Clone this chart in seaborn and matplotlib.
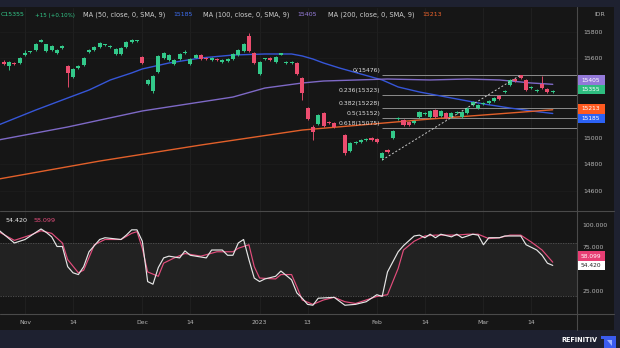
import numpy as np
import pandas as pd
import matplotlib
matplotlib.use("Agg")
import matplotlib.pyplot as plt
import seaborn as sns
from matplotlib.patches import Rectangle, Polygon
from matplotlib.lines import Line2D

sns.set_theme(style="dark")
plt.rcParams['font.family'] = ['DejaVu Sans']

# ---------------- data ----------------
bar_idx = list(range(0, 63)) + list(range(64, 104))
opens = [15574, 15543, 15566, 15566, 15626, 15648, 15664, 15728, 15657, 15664,
         15642, 15679, 15543, 15460, 15528, 15551, 15649, 15664, 15687, 15700,
         15687, 15634, 15634, 15687, 15725, 15732, 15611, 15408, 15355, 15498,
         15604, 15589, 15558, 15596, 15642, 15558, 15607, 15626, 15604, 15589,
         15596, 15574, 15581, 15596, 15626, 15657, 15770, 15642, 15483, 15594,
         15604, 15574, 15630, 15568, 15566, 15566, 15453, 15226, 15083, 15106,
         15189, 15121, 15113,
         15023, 14902, 14962, 14970, 14985, 15000, 14992, 14849, 14909, 15000,
         15140, 15136, 15121, 15113, 15158, 15181, 15158, 15211, 15166, 15189,
         15158, 15189, 15158, 15189, 15249, 15226, 15257, 15264, 15279, 15317,
         15344, 15400, 15445, 15472, 15438, 15377, 15355, 15408, 15370, 15347]
closes = [15560, 15574, 15558, 15604, 15642, 15650, 15709, 15740, 15709, 15694,
          15664, 15694, 15491, 15521, 15543, 15604, 15664, 15687, 15717, 15703,
          15694, 15672, 15679, 15725, 15740, 15734, 15566, 15438, 15468, 15619,
          15642, 15626, 15589, 15634, 15645, 15596, 15626, 15596, 15596, 15604,
          15589, 15589, 15596, 15634, 15664, 15709, 15657, 15566, 15574, 15597,
          15589, 15611, 15638, 15571, 15574, 15483, 15340, 15143, 15045, 15174,
          15091, 15110, 15083,
          14887, 14962, 14970, 14985, 14992, 14985, 14970, 14887, 14898, 15053,
          15151, 15098, 15098, 15128, 15196, 15189, 15204, 15158, 15204, 15151,
          15189, 15196, 15196, 15226, 15272, 15249, 15264, 15279, 15302, 15294,
          15355, 15438, 15430, 15453, 15362, 15385, 15362, 15377, 15347, 15355]
highs = [15585, 15580, 15572, 15612, 15665, 15660, 15715, 15750, 15712, 15700,
         15670, 15700, 15550, 15528, 15550, 15610, 15672, 15692, 15722, 15712,
         15700, 15678, 15685, 15730, 15748, 15740, 15618, 15445, 15475, 15626,
         15650, 15632, 15596, 15640, 15665, 15602, 15632, 15632, 15610, 15610,
         15602, 15594, 15602, 15640, 15670, 15715, 15792, 15648, 15580, 15605,
         15610, 15618, 15645, 15580, 15580, 15572, 15460, 15232, 15098, 15180,
         15196, 15128, 15120,
         15030, 14968, 14978, 14992, 15000, 15006, 14998, 14893, 14915, 15060,
         15158, 15142, 15128, 15134, 15202, 15195, 15210, 15218, 15210, 15195,
         15195, 15202, 15202, 15232, 15278, 15256, 15270, 15286, 15308, 15323,
         15362, 15445, 15452, 15476, 15444, 15392, 15368, 15468, 15376, 15362]
lows = [15550, 15515, 15550, 15560, 15620, 15640, 15660, 15724, 15650, 15658,
        15636, 15675, 15385, 15450, 15522, 15545, 15640, 15658, 15682, 15695,
        15680, 15628, 15628, 15680, 15720, 15726, 15560, 15400, 15340, 15490,
        15598, 15582, 15552, 15590, 15636, 15552, 15600, 15590, 15590, 15584,
        15584, 15568, 15576, 15590, 15620, 15652, 15650, 15560, 15475, 15588,
        15584, 15568, 15625, 15562, 15560, 15476, 15287, 15136, 14985, 15098,
        15085, 15104, 15076,
        14872, 14895, 14955, 14965, 14980, 14978, 14964, 14834, 14890, 14994,
        15134, 15092, 15092, 15107, 15152, 15176, 15152, 15152, 15160, 15145,
        15152, 15183, 15152, 15183, 15243, 15220, 15251, 15258, 15273, 15288,
        15338, 15394, 15424, 15447, 15356, 15370, 15350, 15370, 15340, 15340]

ma50_idx = [-1, 6, 12, 16, 20, 24, 26, 31, 37, 43, 49, 54, 56, 58, 60, 63, 67, 71, 74, 78, 84, 90, 95, 99, 103]
ma50_val = [15098, 15211, 15302, 15362, 15438, 15491, 15521, 15566, 15604, 15626, 15634, 15634, 15619,
            15596, 15566, 15528, 15483, 15438, 15385, 15347, 15302, 15257, 15226, 15204, 15185]
ma100_idx = [-1, 12, 26, 37, 43, 49, 56, 60, 72, 80, 87, 93, 99, 103]
ma100_val = [14985, 15083, 15204, 15272, 15309, 15377, 15415, 15430, 15445, 15438, 15445, 15438, 15415, 15405]
ma200_idx = [-1, 18, 37, 56, 80, 103]
ma200_val = [14690, 14826, 14947, 15060, 15143, 15213]

fib_levels = ["0", "0.236", "0.382", "0.5", "0.618"]
fib_prices = [15476, 15323, 15228, 15152, 15075]
fib_start = 71
trend_x = [71, 97]
trend_y = [14834, 15476]

k_idx = [-1, 2, 4, 7, 8, 9, 10, 11, 12, 13, 14, 15, 16, 18, 19, 22, 23, 24, 25, 26,
         27, 28, 29, 30, 31, 33, 34, 35, 38, 39, 41, 42, 43, 44, 45, 46, 47, 48, 49, 51,
         52, 54, 55, 56, 57, 58, 59, 62, 64, 66, 68, 70, 71, 72, 74, 75, 77, 78, 79, 80,
         81, 82, 84, 85, 86, 88, 89, 90, 91, 93, 94, 97, 98, 100, 101, 102, 103]
k_val = [95, 80, 84, 96, 92, 87, 76, 76, 53, 46, 44, 53, 70, 84, 86, 84, 89, 95, 95, 82,
         36, 33, 52, 63, 65, 63, 71, 66, 63, 72, 72, 66, 66, 80, 84, 61, 40, 36, 39, 42,
         48, 38, 23, 17, 10, 9, 17, 18, 9, 10, 13, 21, 19, 47, 70, 77, 88, 89, 86, 90,
         86, 90, 87, 90, 86, 90, 89, 78, 86, 86, 88, 88, 78, 72, 66, 57, 54.42]
d_idx = [-1, 2, 5, 7, 9, 11, 12, 14, 15, 17, 19, 22, 24, 25, 26, 27, 29, 30, 32, 34,
         37, 40, 43, 44, 46, 47, 48, 51, 52, 54, 55, 56, 58, 60, 62, 64, 66, 68, 70, 72,
         74, 75, 77, 79, 81, 85, 87, 89, 91, 93, 95, 97, 99, 101, 103]
d_val = [93, 83, 89, 94, 91, 80, 61, 46, 49, 78, 84, 84, 91, 93, 74, 47, 42, 57, 63, 68,
         65, 70, 70, 74, 78, 53, 40, 39, 44, 44, 30, 15, 10, 15, 18, 13, 11, 15, 19, 21,
         51, 72, 82, 88, 89, 89, 90, 90, 85, 86, 89, 89, 81, 72, 58.099]

date_ticks = [4, 13, 26, 35, 48, 57, 70, 79, 90, 99]
date_labels = ["Nov", "14", "Dec", "14", "2023", "13", "Feb", "14", "Mar", "14"]
price_ticks = [14600, 14800, 15000, 15600, 15800]
stoch_ticks = [25, 75, 100]

# ---------------- style ----------------
BG = '#161616'
NAVY = '#1e2130'
GREEN = '#33c98a'
RED = '#ec4d6f'
BLUE = '#3656d8'
PURPLE = '#7e69c6'
ORANGE = '#e2602a'
KCOL = '#e6e6e6'
DCOL = '#e34d7c'
TXT = '#b5b5b5'
FS = 4.4

W, H = 620, 348
def fx(px): return px / W
def fy(py): return 1 - py / H

fig = plt.figure(figsize=(6.2, 3.48), dpi=100)
fig.patch.set_facecolor(BG)

ax = fig.add_axes([0, fy(211), fx(577), (211 - 8) / H])
ax2 = fig.add_axes([0, fy(314), fx(577), (314 - 211) / H])
XL = (-0.7, 107.55)
for a in (ax, ax2):
    a.set_facecolor(BG)
    for s in a.spines.values():
        s.set_visible(False)
    a.set_xlim(*XL)
    a.set_xticks(date_ticks)
    a.grid(True, axis='x', color='#242424', lw=0.5, zorder=0)

# ----- main panel -----
ax.set_ylim(14449, 15981)
ax.grid(True, axis='y', color='#1e1e1e', lw=0.5, zorder=0)
ma_specs = [(ma50_idx, ma50_val, BLUE), (ma100_idx, ma100_val, PURPLE), (ma200_idx, ma200_val, ORANGE)]
for xi, yv, col in ma_specs:
    dfm = pd.DataFrame({'idx': xi, 'price': yv})
    sns.lineplot(data=dfm, x='idx', y='price', ax=ax, color=col, lw=1.0, legend=False, zorder=2)

xb = np.array(bar_idx, dtype=float)
o = np.array(opens, dtype=float)
c = np.array(closes, dtype=float)
hi = np.array(highs, dtype=float)
lo = np.array(lows, dtype=float)
cols = np.where(c >= o, GREEN, RED)
body_b = np.minimum(o, c)
body_h = np.maximum(np.abs(c - o), 7.0)
ax.vlines(xb, lo, hi, colors=cols, lw=0.65, zorder=3)
ax.bar(xb, body_h, bottom=body_b, width=0.76, color=cols, linewidth=0, zorder=4)

for lvl, p in zip(fib_levels, fib_prices):
    ax.hlines(p, fib_start, XL[1], colors='#8c8c8c', lw=0.7, zorder=1.5)
    ax.text(fib_start - 0.4, p + 32, f"{lvl}({p})", ha='right', va='center',
            color='#dcdcdc', fontsize=FS, zorder=5)
ax.plot(trend_x, trend_y, color='#c8c8c8', lw=0.7, dashes=(2, 2), zorder=5)

ax.yaxis.tick_right()
ax.set_yticks(price_ticks)
ax.set_yticklabels([str(v) for v in price_ticks])
ax.tick_params(axis='y', length=0, pad=4.5, labelsize=FS, labelcolor=TXT)
ax.tick_params(axis='x', length=0, labelbottom=False)
ax.set_xlabel('')
ax.set_ylabel('')

# ----- stochastic panel -----
ax2.set_ylim(-1, 116.5)
ax2.axhspan(20, 80, color='#222222', zorder=0.5, lw=0)
for lv in (20, 80):
    ax2.axhline(lv, color='#555555', lw=0.6, ls=(0, (1.5, 1.5)), zorder=1)
sns.lineplot(data=pd.DataFrame({'idx': d_idx, 'v': d_val}), x='idx', y='v', ax=ax2,
             color=DCOL, lw=0.85, legend=False, zorder=3)
sns.lineplot(data=pd.DataFrame({'idx': k_idx, 'v': k_val}), x='idx', y='v', ax=ax2,
             color=KCOL, lw=0.85, legend=False, zorder=4)
ax2.set_xlabel('')
ax2.set_ylabel('')
ax2.yaxis.tick_right()
ax2.set_yticks(stoch_ticks)
ax2.set_yticklabels([f"{v:.3f}" for v in stoch_ticks])
ax2.tick_params(axis='y', length=0, pad=4, labelsize=FS, labelcolor=TXT)
ax2.set_xticks(date_ticks)
ax2.set_xticklabels(date_labels)
ax2.tick_params(axis='x', length=0, pad=4.5, labelsize=FS, labelcolor=TXT)

# ----- frame pieces -----
fig.add_artist(Rectangle((0, fy(7)), 1, 7 / H, transform=fig.transFigure, facecolor=NAVY, edgecolor='none', zorder=0.5))
fig.add_artist(Rectangle((0, 0), 1, fy(330), transform=fig.transFigure, facecolor=NAVY, edgecolor='none', zorder=0.5))
fig.add_artist(Rectangle((fx(614), 0), fx(6), 1, transform=fig.transFigure, facecolor=NAVY, edgecolor='none', zorder=0.5))
for yy in (211, 314):
    fig.add_artist(Line2D([0, fx(614)], [fy(yy), fy(yy)], transform=fig.transFigure, color='#4a4a4a', lw=0.8))
fig.add_artist(Line2D([fx(577), fx(577)], [fy(330), fy(7)], transform=fig.transFigure, color='#4a4a4a', lw=0.8))

def tag(ycen, text, bg, fg):
    fig.add_artist(Rectangle((fx(577.5), fy(ycen + 4.6)), fx(27), 9.2 / H, transform=fig.transFigure,
                             facecolor=bg, edgecolor='none', zorder=5))
    fig.text(fx(591), fy(ycen), text, ha='center', va='center', color=fg, fontsize=4.2, zorder=6)

tag(80, "15405", '#9379d9', 'white')
tag(89.5, "15355", '#2ebd7f', 'white')
tag(109, "15213", '#ff5a1f', 'white')
tag(118.5, "15185", '#2c62f5', 'white')
tag(256, "58.099", '#e83e74', 'white')
tag(265.5, "54.420", '#ffffff', '#222222')

# header legend
hdr = [(0.5, "C15355", GREEN, 4.5), (35, "+15 (+0.10%)", GREEN, 4.0),
       (83, "MA (50, close, 0, SMA, 9)", '#cfcfcf', 4.8), (173, "15185", '#3d6df0', 4.5),
       (203, "MA (100, close, 0, SMA, 9)", '#cfcfcf', 4.8), (297, "15405", '#9a7fe0', 4.5),
       (328, "MA (200, close, 0, SMA, 9)", '#cfcfcf', 4.8), (422, "15213", '#f0642c', 4.5)]
for xp, t, col, fsz in hdr:
    fig.text(fx(xp), fy(15), t, ha='left', va='center', color=col, fontsize=fsz, zorder=6)
fig.text(fx(600), fy(15), "IDR", ha='center', va='center', color=TXT, fontsize=FS, zorder=6)

fig.text(fx(5), fy(221), "54.420", ha='left', va='center', color='#eeeeee', fontsize=4.6, zorder=6)
fig.text(fx(33), fy(221), "58.099", ha='left', va='center', color=DCOL, fontsize=4.6, zorder=6)

# footer
fig.text(fx(597), fy(340), "REFINITIV", ha='right', va='center', color='white',
         fontsize=4.7, fontweight='bold', zorder=6)
fig.add_artist(Polygon([[fx(601), fy(336)], [fx(616), fy(336)], [fx(616), fy(348)],
                        [fx(604), fy(348)], [fx(604), fy(339)], [fx(601), fy(339)]],
                       closed=True, transform=fig.transFigure, facecolor='#3b5cf0', edgecolor='none', zorder=6))
fig.add_artist(Polygon([[fx(607), fy(340)], [fx(612), fy(340)], [fx(612), fy(346)]],
                       closed=True, transform=fig.transFigure, facecolor='#9fb2ff', edgecolor='none', zorder=7))

fig.savefig("out.png", dpi=100, facecolor=fig.get_facecolor())
